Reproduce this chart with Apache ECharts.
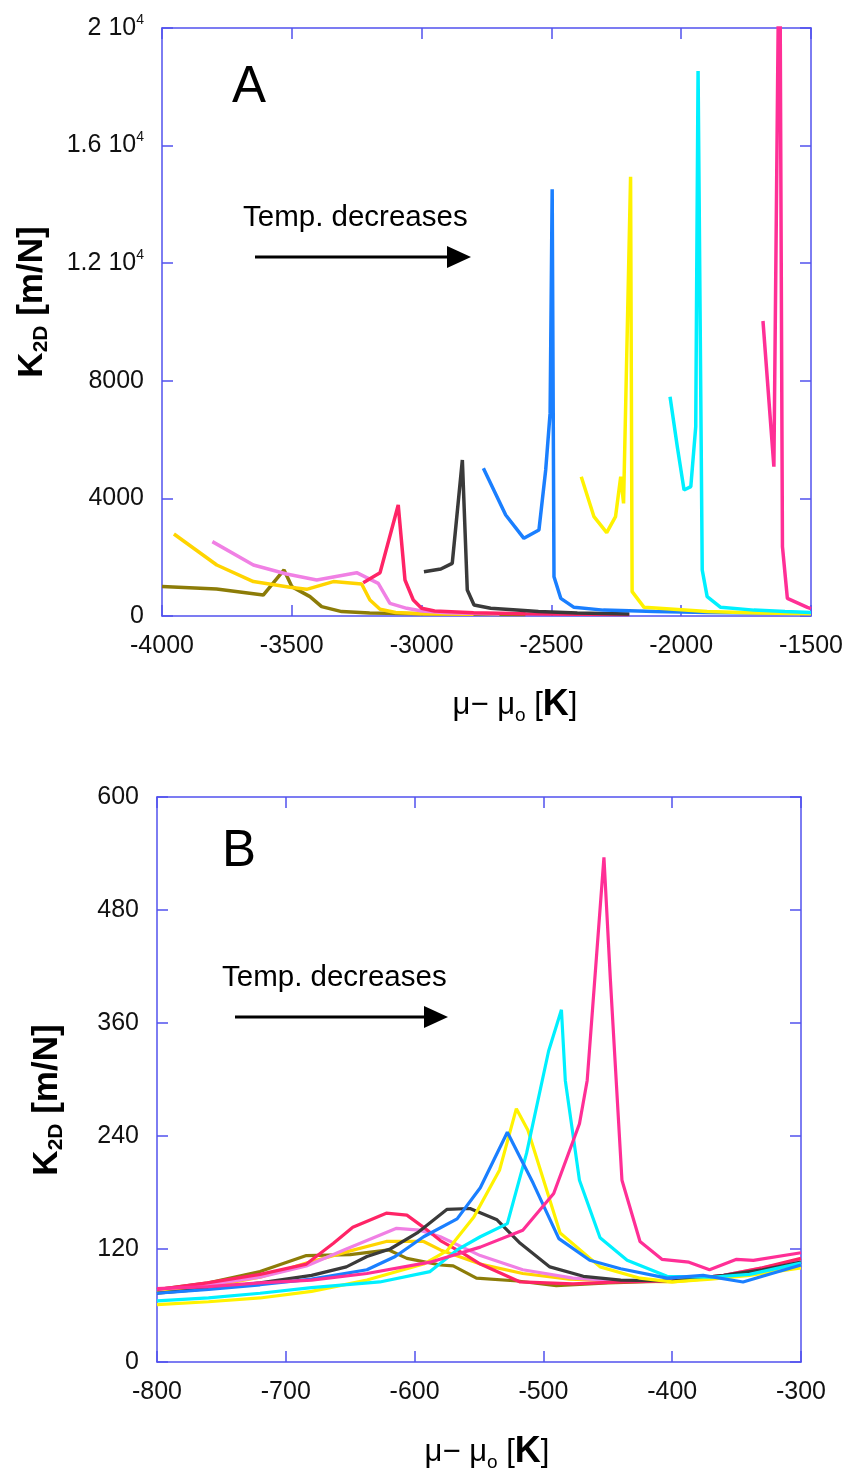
<!DOCTYPE html>
<html><head><meta charset="utf-8">
<script src="https://cdn.jsdelivr.net/npm/echarts@6/dist/echarts.min.js"></script>
<style>html,body{margin:0;padding:0;background:#fff}#c{width:848px;height:1475px}</style>
</head><body><div id="c"></div>
<script>
// ---------- Panel A data: [mu - mu0, K2D] ----------
const A_olive  = [[-4000,1000],[-3790,920],[-3610,714],[-3530,1565],[-3500,1000],[-3430,660],[-3385,320],[-3308,150],[-3200,100],[-3000,80],[-2800,60],[-2600,50]];
const A_gold   = [[-3954,2790],[-3789,1735],[-3648,1170],[-3507,975],[-3443,907],[-3340,1170],[-3231,1088],[-3199,544],[-3160,227],[-3100,120],[-3000,80],[-2800,60]];
const A_violet = [[-3806,2530],[-3648,1735],[-3520,1430],[-3404,1224],[-3250,1474],[-3167,1111],[-3122,431],[-3057,261],[-3000,170],[-2900,110],[-2700,70]];
const A_crimson= [[-3225,1134],[-3160,1474],[-3090,3776],[-3064,1224],[-3032,544],[-3000,262],[-2950,170],[-2800,110],[-2600,80],[-2400,60],[-2200,50]];
const A_gray   = [[-2991,1507],[-2926,1598],[-2882,1792],[-2843,5306],[-2824,884],[-2798,374],[-2734,262],[-2633,204],[-2550,150],[-2400,100],[-2200,70]];
const A_blue   = [[-2762,5023],[-2676,3435],[-2606,2642],[-2548,2925],[-2522,4966],[-2505,6900],[-2497,14513],[-2490,1337],[-2464,601],[-2413,295],[-2300,200],[-2100,150],[-1900,120],[-1700,100],[-1500,90]];
const A_yellow = [[-2385,4739],[-2336,3379],[-2287,2834],[-2253,3379],[-2233,4739],[-2222,3830],[-2195,14943],[-2189,828],[-2143,295],[-2028,230],[-1900,150],[-1700,100],[-1500,80]];
const A_cyan   = [[-2043,7460],[-2015,5759],[-1989,4286],[-1963,4399],[-1944,6440],[-1935,18537],[-1919,1565],[-1900,658],[-1848,295],[-1720,200],[-1600,150],[-1500,120]];
const A_pink   = [[-1685,10034],[-1643,5079],[-1621,25000],[-1610,2358],[-1591,601],[-1514,295],[-1500,250]];

// ---------- Panel B data ----------
const B_olive  = [[-800,77],[-760,84],[-720,96],[-684,113],[-650,114],[-620,119],[-606,110],[-580,103],[-570,102],[-552,89],[-520,86],[-490,81],[-450,84],[-400,86],[-370,90],[-340,95],[-300,108]];
const B_gold   = [[-800,74],[-760,80],[-720,90],[-684,105],[-650,118],[-622,128],[-593,128],[-580,119],[-549,104],[-516,94],[-480,88],[-440,86],[-400,85],[-360,90],[-300,104]];
const B_violet = [[-800,77],[-760,82],[-720,90],[-684,102],[-653,120],[-614,142],[-596,140],[-580,133],[-549,113],[-516,98],[-477,89],[-440,86],[-400,86],[-360,92],[-300,108]];
const B_crimson= [[-800,77],[-761,84],[-720,93],[-684,104],[-663,126],[-648,143],[-622,158],[-606,156],[-593,143],[-580,129],[-562,115],[-549,104],[-518,85],[-477,83],[-440,85],[-400,86],[-360,92],[-330,100],[-300,110]];
const B_gray   = [[-800,73],[-760,78],[-720,84],[-680,92],[-653,101],[-637,112],[-619,120],[-598,137],[-575,162],[-557,163],[-536,151],[-518,126],[-495,101],[-469,91],[-440,87],[-400,86],[-360,92],[-330,98],[-300,106]];
const B_blue   = [[-800,73],[-760,77],[-720,82],[-680,88],[-637,98],[-615,112],[-593,133],[-567,152],[-549,185],[-528,244],[-508,190],[-488,131],[-464,108],[-440,99],[-404,89],[-376,92],[-345,85],[-320,95],[-300,103]];
const B_yellow = [[-800,61],[-760,64],[-720,68],[-680,75],[-637,87],[-593,104],[-575,118],[-554,154],[-534,204],[-521,269],[-512,246],[-487,137],[-456,101],[-425,89],[-400,85],[-370,88],[-340,92],[-300,100]];
const B_cyan   = [[-800,65],[-760,68],[-720,73],[-680,79],[-627,85],[-588,96],[-567,119],[-549,133],[-528,147],[-513,222],[-496,330],[-486,374],[-483,299],[-472,193],[-456,132],[-435,108],[-404,91],[-370,90],[-340,93],[-300,105]];
const B_pink   = [[-800,78],[-760,80],[-720,84],[-680,87],[-637,94],[-588,106],[-549,122],[-516,140],[-492,179],[-472,253],[-466,299],[-453,536],[-448,406],[-439,193],[-425,128],[-408,109],[-387,106],[-371,98],[-350,109],[-337,108],[-300,116]];

// ---------- axes ----------
const A_xTicks = {min:-4000, max:-1500, interval:500};
const A_yTicks = {min:0, max:20000, interval:4000};
const B_xTicks = {min:-800, max:-300, interval:100};
const B_yTicks = {min:0, max:600, interval:120};

const COLORS = {olive:'#8c7c08', gold:'#ffd400', violet:'#f080e4', crimson:'#ff2466', gray:'#3a3a3a',
  blue:'#1a7fff', yellow:'#fff200', cyan:'#00f0ff', pink:'#ff2f96'};

const FONT = 'Liberation Sans, Arial, Helvetica, sans-serif';
const AXC = '#5252ee';

function axisBase(grid, pos, ticks, showLabel, fmt) {
  const ax = {
    gridIndex: grid, type:'value', position: pos,
    min: ticks.min, max: ticks.max, interval: ticks.interval,
    axisLine:{show:true, onZero:false, lineStyle:{color:AXC, width:1.5}},
    axisTick:{show:true, inside:true, length:11, lineStyle:{color:AXC, width:1.5}},
    splitLine:{show:false},
    axisLabel:{show:showLabel, fontSize:25, fontFamily:FONT, color:'#111', margin:18,
      formatter: v => String(v)}
  };
  if (fmt) { ax.axisLabel.formatter = fmt.f; ax.axisLabel.rich = fmt.rich; }
  return ax;
}
const yFmtA = {
  f: v => v >= 10000 ? '{n|' + (v/10000) + ' 10}{s|4}' : '{n|' + v + '}',
  rich: {
    n:{fontSize:25, fontFamily:FONT, color:'#111', lineHeight:30},
    s:{fontSize:14, fontFamily:FONT, color:'#111', lineHeight:14, verticalAlign:'top'}
  }
};

function ser(data, color, xi, yi, w) {
  return {type:'line', data, xAxisIndex:xi, yAxisIndex:yi, showSymbol:false, symbol:'none',
    lineStyle:{color, width:w}, itemStyle:{color}, clip:true, animation:false, z:2};
}

const seriesA = [
  [A_olive,'olive'],[A_gold,'gold'],[A_violet,'violet'],[A_crimson,'crimson'],[A_gray,'gray'],
  [A_blue,'blue'],[A_yellow,'yellow'],[A_cyan,'cyan'],[A_pink,'pink']
].map(([d,c]) => ser(d, COLORS[c], 0, 0, 3.5));
const seriesB = [
  [B_olive,'olive'],[B_gold,'gold'],[B_violet,'violet'],[B_crimson,'crimson'],[B_gray,'gray'],
  [B_yellow,'yellow'],[B_cyan,'cyan'],[B_blue,'blue'],[B_pink,'pink']
].map(([d,c]) => ser(d, COLORS[c], 2, 2, 3.2));

const yTitleRich = {
  k:{fontSize:35, fontWeight:'bold', fontFamily:FONT, color:'#111', lineHeight:40},
  sub:{fontSize:21, fontWeight:'bold', fontFamily:FONT, color:'#111', lineHeight:21, verticalAlign:'bottom'}
};
const xTitleRich = {
  m:{fontSize:31, fontFamily:FONT, color:'#111', lineHeight:40},
  sub:{fontSize:19, fontFamily:FONT, color:'#111', lineHeight:19, verticalAlign:'bottom'},
  b:{fontSize:36, fontWeight:'bold', fontFamily:FONT, color:'#111', lineHeight:40}
};

function arrow(x1, x2, y) {
  return [
    {type:'line', shape:{x1:x1, y1:y, x2:x2-20, y2:y}, style:{stroke:'#000', lineWidth:3}},
    {type:'polygon', shape:{points:[[x2-24,y-11],[x2,y],[x2-24,y+11]]}, style:{fill:'#000'}}
  ];
}

const option = {
  backgroundColor:'#fff',
  animation:false,
  grid:[
    {left:162, top:28, width:649, height:588, containLabel:false},
    {left:157, top:797, width:644, height:565, containLabel:false}
  ],
  xAxis:[
    axisBase(0,'bottom',A_xTicks,true),
    axisBase(0,'top',A_xTicks,false),
    axisBase(1,'bottom',B_xTicks,true),
    axisBase(1,'top',B_xTicks,false)
  ],
  yAxis:[
    axisBase(0,'left',A_yTicks,true,yFmtA),
    axisBase(0,'right',A_yTicks,false),
    axisBase(1,'left',B_yTicks,true),
    axisBase(1,'right',B_yTicks,false)
  ],
  series: seriesA.concat(seriesB),
  graphic:[
    {type:'text', x:232, y:113, style:{text:'A', fontSize:51, fontFamily:FONT, fill:'#000', textVerticalAlign:'bottom'}},
    {type:'text', x:222, y:877, style:{text:'B', fontSize:51, fontFamily:FONT, fill:'#000', textVerticalAlign:'bottom'}},
    {type:'text', x:243, y:233, style:{text:'Temp. decreases', fontSize:29.5, fontFamily:FONT, fill:'#000', textVerticalAlign:'bottom'}},
    {type:'text', x:222, y:993, style:{text:'Temp. decreases', fontSize:29.5, fontFamily:FONT, fill:'#000', textVerticalAlign:'bottom'}},
    ...arrow(255, 471, 257),
    ...arrow(235, 448, 1017),
    {type:'text', x:32, y:302, rotation:Math.PI/2,
      style:{text:'{k|K}{sub|2D}{k| [m/N]}', rich:yTitleRich, textAlign:'center', textVerticalAlign:'middle'}},
    {type:'text', x:47, y:1100, rotation:Math.PI/2,
      style:{text:'{k|K}{sub|2D}{k| [m/N]}', rich:yTitleRich, textAlign:'center', textVerticalAlign:'middle'}},
    {type:'text', x:515, y:705,
      style:{text:'{m|μ− μ}{sub|o}{m| [}{b|K}{m|]}', rich:xTitleRich, textAlign:'center', textVerticalAlign:'middle'}},
    {type:'text', x:487, y:1452,
      style:{text:'{m|μ− μ}{sub|o}{m| [}{b|K}{m|]}', rich:xTitleRich, textAlign:'center', textVerticalAlign:'middle'}}
  ]
};
const chart = echarts.init(document.getElementById('c'), null, {renderer:'canvas'});
chart.setOption(option);
</script></body></html>
